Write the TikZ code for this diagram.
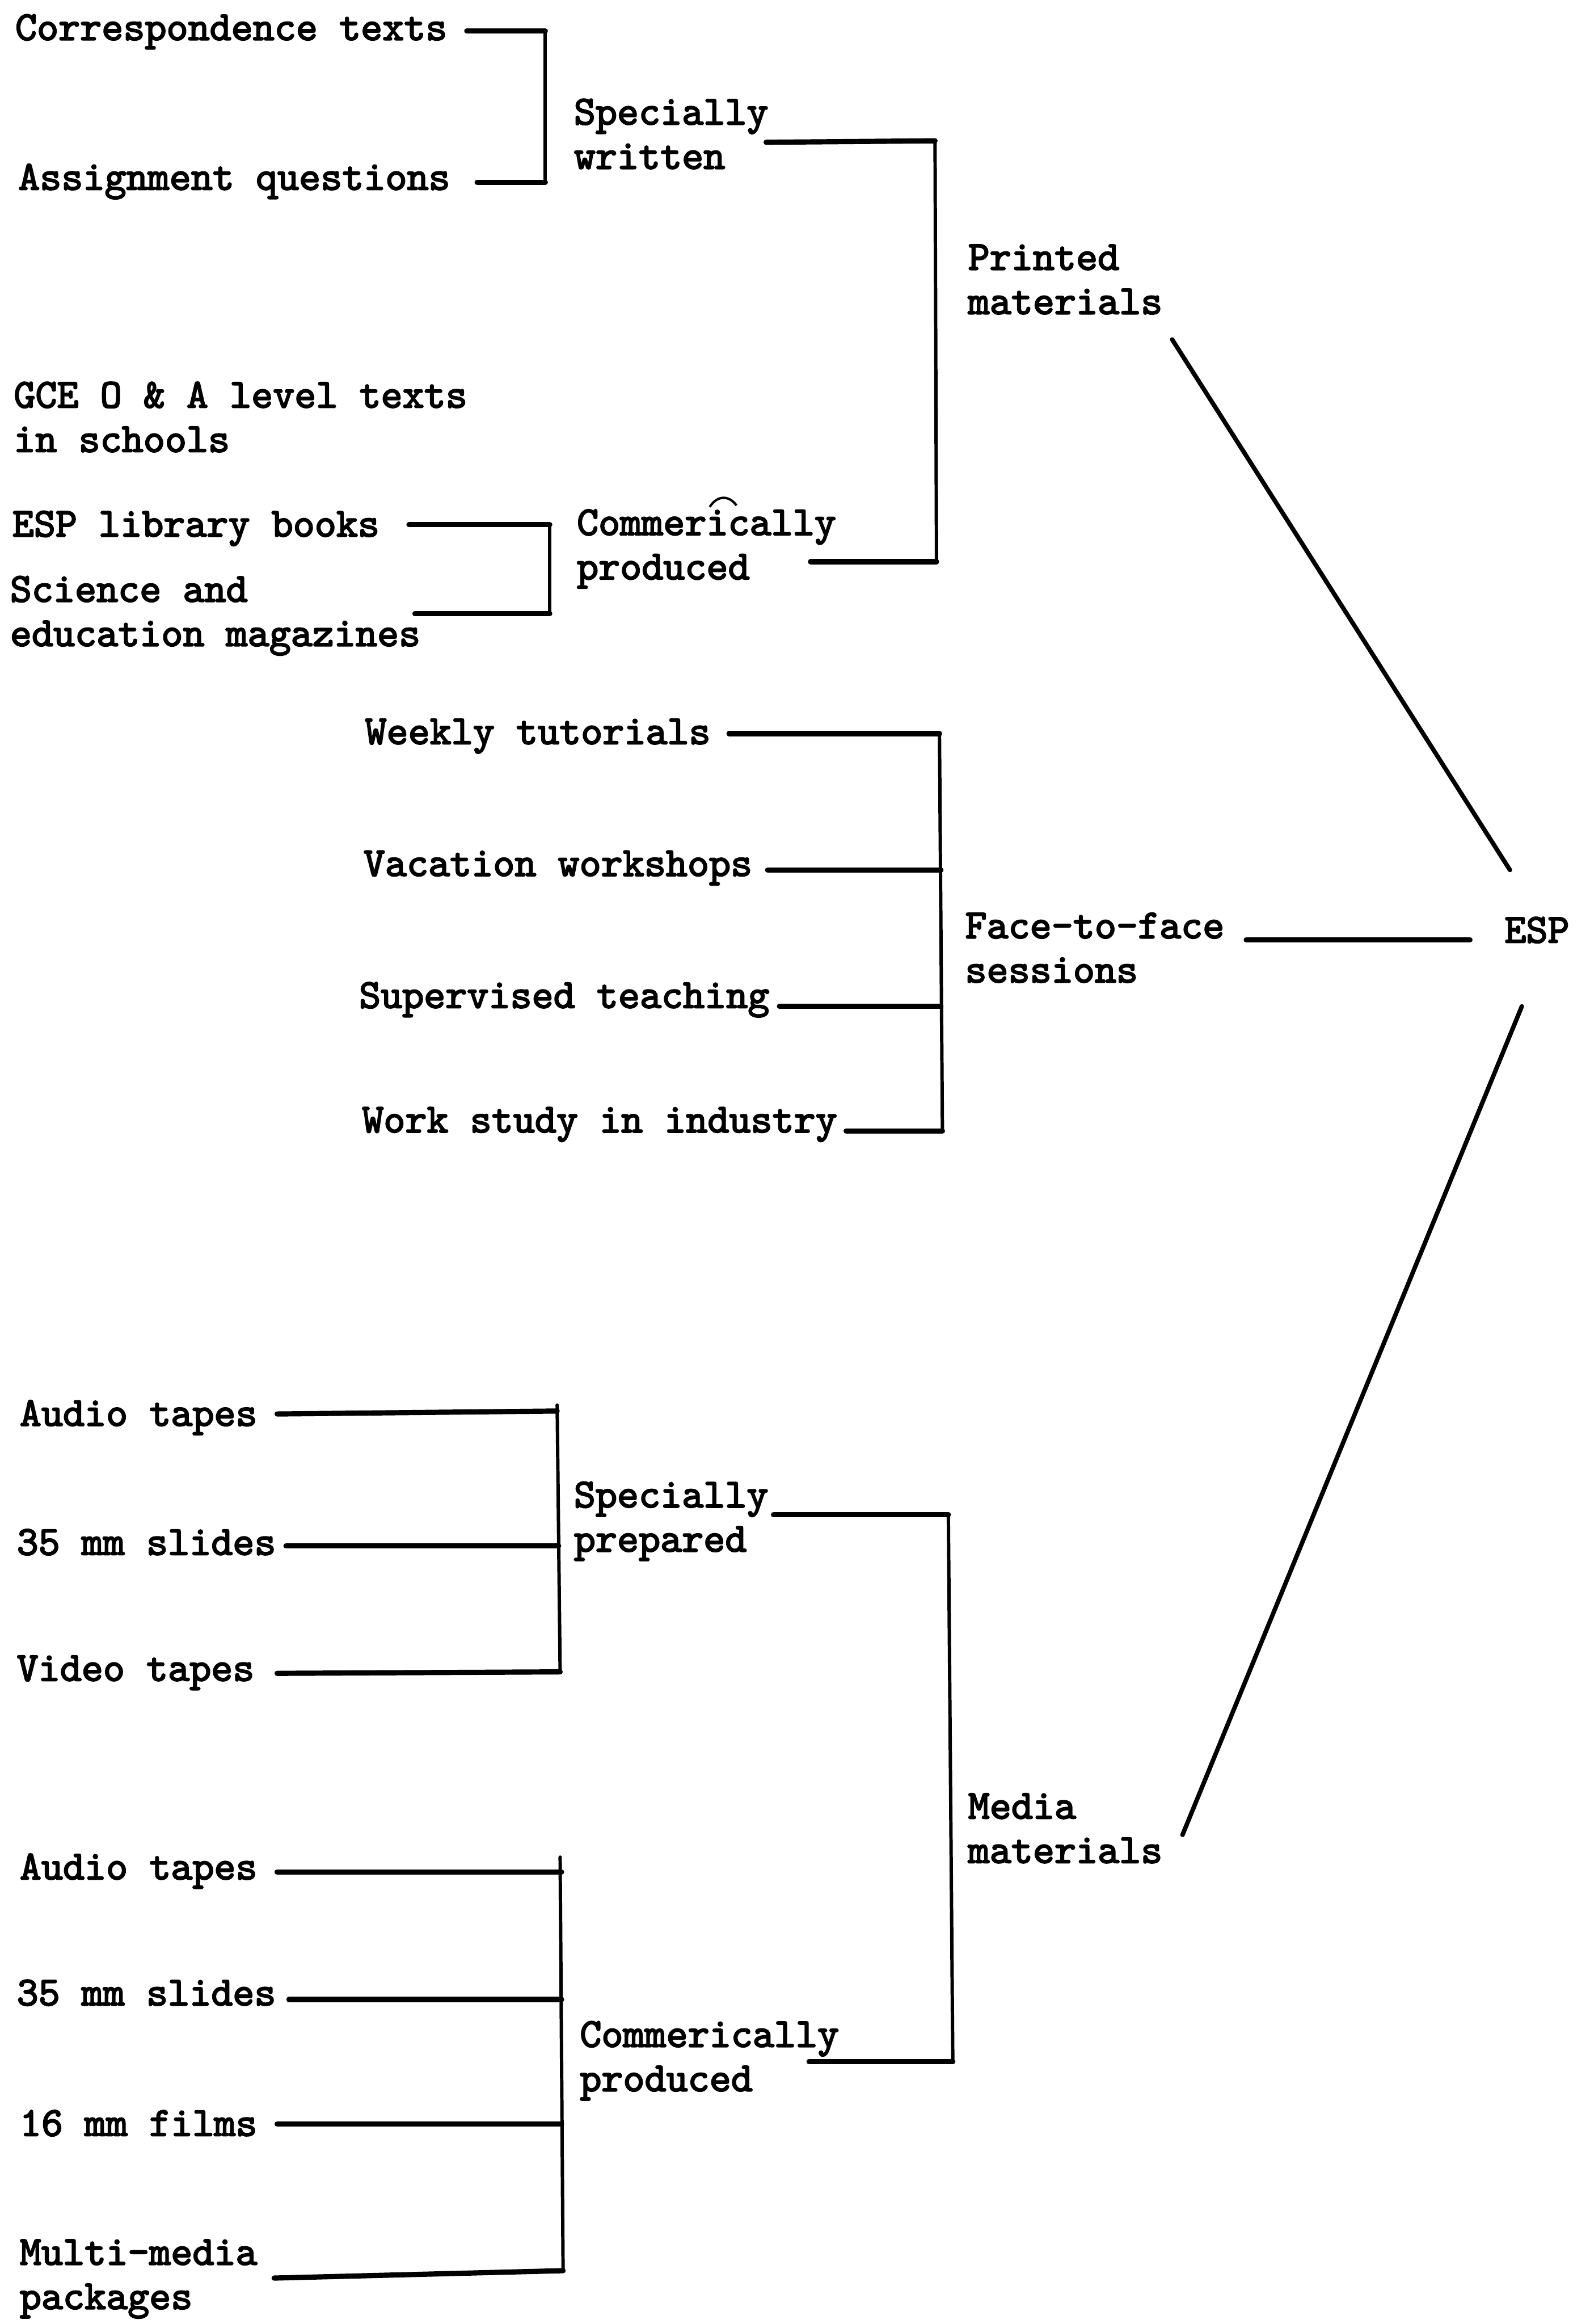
\documentclass[tikz,border=0pt]{standalone}
\usepackage{fontspec}
\newfontfamily\typew{lmmono10-regular.otf}[FakeBold=3]
\newcommand\twolines[2]{\vtop{\hbox{#1}\hbox{#2}}}
\begin{document}
\begin{tikzpicture}[x=0.02cm,y=-0.02cm,
  lbl/.style={anchor=base west, inner sep=0pt, font=\typew\fontsize{15.8}{17}\selectfont},
  hl/.style={line width=2.0pt, line cap=round},
  vl/.style={line width=1.3pt, line cap=round},
  dl/.style={line width=1.7pt, line cap=round}]
\useasboundingbox (0,0) rectangle (1073,1568);

% ---------- labels ----------
\node[lbl] (ct)   at (10,27)   {Correspondence texts};
\node[lbl] (aq)   at (12,128)  {Assignment questions};
\node[lbl] (sw)   at (387,84)  {\twolines{Specially}{written}};
\node[lbl] (pm)   at (653,182) {\twolines{Printed}{materials}};
\node[lbl] (gce)  at (9,275)   {\twolines{GCE O \& A level texts}{in schools}};
\node[lbl] (esl)  at (8,362)   {ESP library books};
\node[lbl] (sci)  at (6.5,406) {\twolines{Science and}{education magazines}};
\node[lbl] (cp1)  at (389,361) {\twolines{Commerically}{produced}};
\node[lbl] (wt)   at (246,502) {Weekly tutorials};
\node[lbl] (vw)   at (245,591) {Vacation workshops};
\node[lbl] (st)   at (242,680) {Supervised teaching};
\node[lbl] (ws)   at (244,764) {Work study in industry};
\node[lbl] (ff)   at (651,633) {\twolines{Face-to-face}{sessions}};
\node[lbl] (esp)  at (1015,636){ESP};
\node[lbl] (at1)  at (13,962)  {Audio tapes};
\node[lbl] (mm1)  at (11,1049) {35 mm slides};
\node[lbl] (vt)   at (11,1134) {Video tapes};
\node[lbl] (sp)   at (387,1017){\twolines{Specially}{prepared}};
\node[lbl] (mmat) at (653,1227){\twolines{Media}{materials}};
\node[lbl] (at2)  at (13,1268) {Audio tapes};
\node[lbl] (mm2)  at (11,1353) {35 mm slides};
\node[lbl] (fm)   at (13,1441) {16 mm films};
\node[lbl] (mmp)  at (13,1528) {\twolines{Multi-media}{packages}};
\node[lbl] (cp2)  at (391,1381){\twolines{Commerically}{produced}};

% hand-drawn mark over the i of the first "Commerically"
\draw[line width=0.9pt] (479,342) .. controls (484,334) and (492,334) .. (497,341);

% ---------- coordinates ----------
\coordinate (ct-o) at (315,21);   \coordinate (g1t) at (368,21);
\coordinate (aq-o) at (322,123);  \coordinate (g1b) at (368,123);
\coordinate (esl-o) at (276,354); \coordinate (g2t) at (371,354);
\coordinate (sci-o) at (280,414); \coordinate (g2b) at (371,414);
\coordinate (sw-o) at (517,96);   \coordinate (pmt) at (631,95);
\coordinate (cp1-o) at (547,379); \coordinate (pmb) at (632,379);
\coordinate (pm-o) at (791,229);  \coordinate (esp-a) at (1019,587);
\coordinate (wt-o) at (492,495);  \coordinate (fft) at (634,495);
\coordinate (vw-o) at (518,587);  \coordinate (ff2) at (635,587);
\coordinate (st-o) at (526,679);  \coordinate (ff3) at (635,679);
\coordinate (ws-o) at (571,763);  \coordinate (ffb) at (636,763);
\coordinate (ff-o) at (841,634);  \coordinate (esp-b) at (992,634);
\coordinate (esp-c) at (1027,679);\coordinate (mmat-o) at (798,1238);
\coordinate (at1-o) at (187,954); \coordinate (g3t) at (376,952);
\coordinate (mm1-o) at (193,1043);\coordinate (g3m) at (377,1043);
\coordinate (vt-o) at (187,1129); \coordinate (g3b) at (378,1128);
\coordinate (g3top) at (376,948);
\coordinate (sp-o) at (522,1022); \coordinate (mt) at (640,1022);
\coordinate (cp2-o) at (546,1391);\coordinate (mb) at (643,1391);
\coordinate (at2-o) at (187,1263);\coordinate (g4t) at (379,1263);
\coordinate (mm2-o) at (195,1349);\coordinate (g4m) at (379,1349);
\coordinate (fm-o) at (187,1433); \coordinate (g4n) at (379,1433);
\coordinate (mmp-o) at (185,1537);\coordinate (g4b) at (380,1532);
\coordinate (g4top) at (378,1253);

% ---------- connectors ----------
% specially written
\draw[hl] (ct-o) -- (g1t);
\draw[hl] (aq-o) -- (g1b);
\draw[vl] (g1t) -- (g1b);
% commercially produced (printed)
\draw[hl] (esl-o) -- (g2t);
\draw[hl] (sci-o) -- (g2b);
\draw[vl] (g2t) -- (g2b);
% printed materials
\draw[hl] (sw-o) -- (pmt);
\draw[hl] (cp1-o) -- (pmb);
\draw[vl] (pmt) -- (pmb);
\draw[dl] (pm-o) -- (esp-a);
% face-to-face
\draw[hl] (wt-o) -- (fft);
\draw[hl] (vw-o) -- (ff2);
\draw[hl] (st-o) -- (ff3);
\draw[hl] (ws-o) -- (ffb);
\draw[vl] (fft) -- (ffb);
\draw[hl] (ff-o) -- (esp-b);
% media
\draw[dl] (esp-c) -- (mmat-o);
\draw[hl] (at1-o) -- (g3t);
\draw[hl] (mm1-o) -- (g3m);
\draw[hl] (vt-o) -- (g3b);
\draw[vl] (g3top) -- (g3b);
\draw[hl] (sp-o) -- (mt);
\draw[hl] (cp2-o) -- (mb);
\draw[vl] (mt) -- (mb);
\draw[hl] (at2-o) -- (g4t);
\draw[hl] (mm2-o) -- (g4m);
\draw[hl] (fm-o) -- (g4n);
\draw[hl] (mmp-o) -- (g4b);
\draw[vl] (g4top) -- (g4b);
\end{tikzpicture}
\end{document}
